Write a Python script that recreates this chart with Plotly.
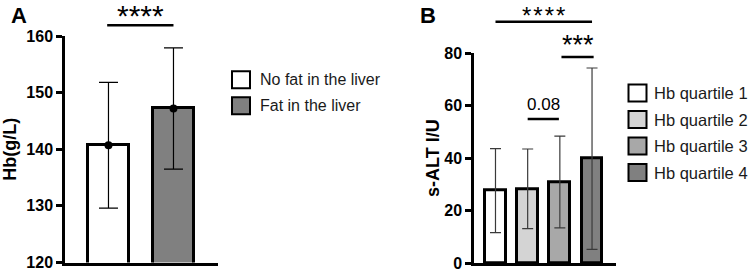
import plotly.graph_objects as go

# ---------------- data ----------------
groups_a = ["No fat in the liver", "Fat in the liver"]
hb_mean = [140.7, 147.2]
hb_sd = [11.1, 10.7]
colors_a = ["#ffffff", "#808080"]

groups_b = ["Hb quartile 1", "Hb quartile 2", "Hb quartile 3", "Hb quartile 4"]
alt_mean = [27.6, 28.3, 30.9, 39.8]
alt_sd = [16.0, 15.2, 17.5, 34.6]
colors_b = ["#ffffff", "#d4d4d4", "#a8a8a8", "#808080"]

yticks_a = [120, 130, 140, 150, 160]
yticks_b = [0, 20, 40, 60, 80]

W, H = 751, 271
FONT = "Liberation Sans, Arial, sans-serif"


def px(xpix):
    return xpix / W


def py(ypix):
    return 1 - ypix / H


fig = go.Figure()

# Panel A bars
fig.add_trace(go.Bar(
    x=list(range(len(groups_a))), y=hb_mean, width=0.63,
    marker=dict(color=colors_a, line=dict(color="black", width=3)),
    error_y=dict(type="data", array=hb_sd, symmetric=True, color="black",
                 thickness=1.2, width=9.5),
    xaxis="x", yaxis="y", showlegend=False, hoverinfo="skip",
))
fig.add_trace(go.Scatter(
    x=list(range(len(groups_a))), y=hb_mean, mode="markers",
    marker=dict(color="black", size=8), xaxis="x", yaxis="y",
    showlegend=False, hoverinfo="skip", cliponaxis=False,
))

# Panel B bars
fig.add_trace(go.Bar(
    x=list(range(len(groups_b))), y=alt_mean, width=0.65,
    marker=dict(color=colors_b, line=dict(color="black", width=3)),
    error_y=dict(type="data", array=alt_sd, symmetric=True, color="#3a3a3a",
                 thickness=1.2, width=5.5),
    xaxis="x2", yaxis="y2", showlegend=False, hoverinfo="skip",
))

axis_common = dict(showgrid=False, zeroline=False, showline=True,
                   linecolor="black", linewidth=2.5, fixedrange=True,
                   automargin=False)

yaxis_common = dict(ticks="outside", ticklen=6, tickwidth=2.5, tickcolor="black",
                    ticklabeloverflow="allow",
                    tickfont=dict(size=16, weight="bold", family=FONT))

fig.update_layout(
    width=W, height=H,
    margin=dict(l=0, r=0, t=0, b=0, pad=0, autoexpand=False),
    paper_bgcolor="white", plot_bgcolor="white",
    font=dict(family=FONT, color="black"),
    bargap=0,
    xaxis=dict(domain=[px(65), px(218)], range=[-0.669, 1.685],
               showticklabels=False, ticks="", anchor="y", **axis_common),
    yaxis=dict(domain=[py(262.5), py(36)], range=[120, 160], tickvals=yticks_a,
               title=dict(text="Hb(g/L)", font=dict(size=18, weight="bold", family=FONT),
                          standoff=10),
               anchor="x", **yaxis_common, **axis_common),
    xaxis2=dict(domain=[px(474), px(616)], range=[-0.668, 3.745],
                showticklabels=False, ticks="", anchor="y2", **axis_common),
    yaxis2=dict(domain=[py(263), py(53.3)], range=[0, 80], tickvals=yticks_b,
                title=dict(text="s-ALT I/U", font=dict(size=18, weight="bold", family=FONT),
                           standoff=0),
                anchor="x2", **yaxis_common, **axis_common),
)

shapes = []
annos = []

# significance brackets
def bracket(xref, x0, x1, ypix, label, tx, typix, size, anchor="middle"):
    shapes.append(dict(type="line", xref=xref, yref="paper", x0=x0, x1=x1,
                       y0=py(ypix), y1=py(ypix), line=dict(color="black", width=2.5)))
    annos.append(dict(xref=xref, yref="paper", x=tx, y=py(typix), text=label,
                      showarrow=False, xanchor="center", yanchor=anchor,
                      font=dict(size=size, family=FONT, color="black")))

HS = "\u200a"
bracket("x", -0.02, 1.0, 25.3, "****", 0.5, 15, 30)
bracket("x2", 0.0, 3.0, 21.7, HS.join("****"), 1.5, 0, 24, anchor="top")
bracket("x2", 2.05, 3.05, 57, "***", 2.55, 45, 27)
bracket("x2", 1.0, 1.97, 119, "0.08", 1.49, 104, 17)

# panel letters
annos.append(dict(xref="paper", yref="paper", x=px(18.5), y=py(15), text="A",
                  showarrow=False, xanchor="center", yanchor="middle",
                  font=dict(size=22, weight="bold", family=FONT)))
annos.append(dict(xref="paper", yref="paper", x=px(427.5), y=py(15), text="B",
                  showarrow=False, xanchor="center", yanchor="middle",
                  font=dict(size=22, weight="bold", family=FONT)))

# legends (drawn manually)
def legend(names, colors, x0, ycenters, textx, size):
    for name, col, yc in zip(names, colors, ycenters):
        shapes.append(dict(type="rect", xref="paper", yref="paper",
                           x0=px(x0), x1=px(x0 + 18), y0=py(yc + 8.5), y1=py(yc - 8.5),
                           fillcolor=col, line=dict(color="black", width=2)))
        annos.append(dict(xref="paper", yref="paper", x=px(textx), y=py(yc),
                          text=name, showarrow=False, xanchor="left", yanchor="middle",
                          font=dict(size=size, family=FONT, color="#1a1a1a")))

legend(groups_a, colors_a, 232, [79.7, 105.8], 258, 16)
legend(groups_b, colors_b, 628.5, [93, 119.5, 146, 172.5], 652, 16.5)

fig.update_layout(shapes=shapes, annotations=annos)

fig.write_html("out.html", config={"displayModeBar": False},
               post_script="document.body.style.margin='0';document.body.style.padding='0';document.body.style.overflow='hidden';")
